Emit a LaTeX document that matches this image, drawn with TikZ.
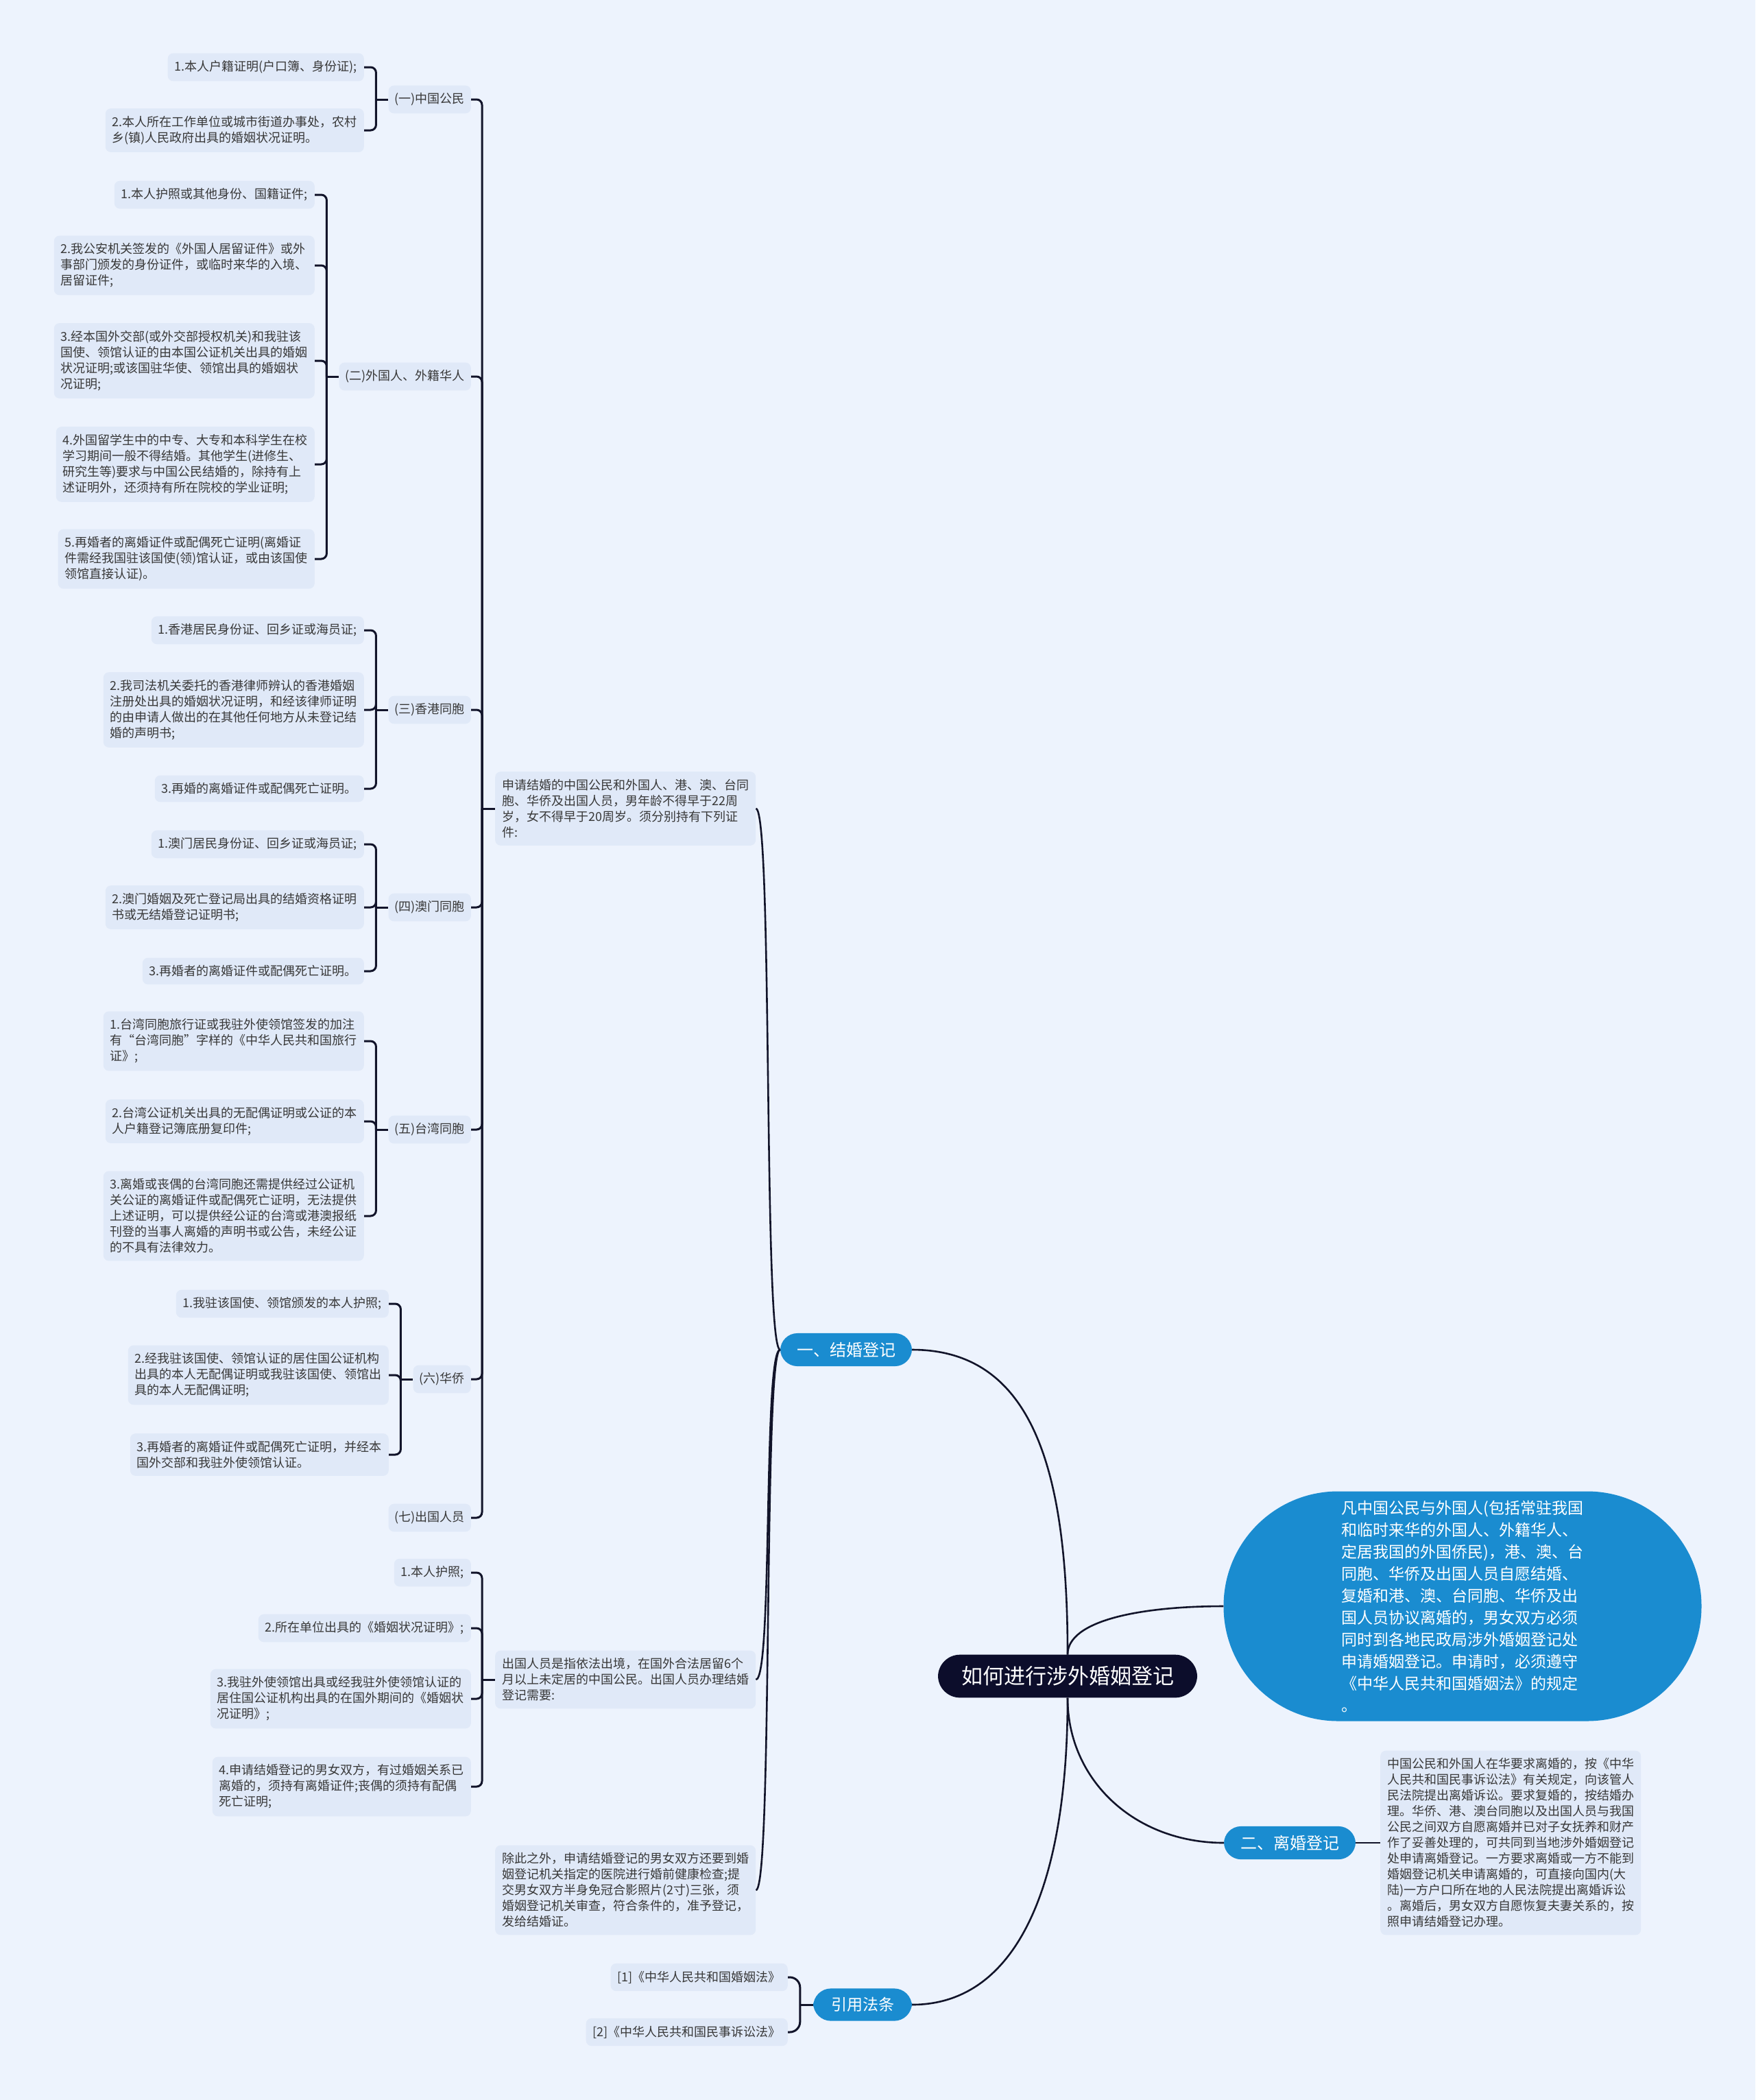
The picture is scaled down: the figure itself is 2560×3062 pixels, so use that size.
\documentclass[tikz,border=0pt]{standalone}
\usepackage{fontspec}
\setmainfont{Noto Sans CJK SC}
\usetikzlibrary{calc}
\definecolor{MapBack}{HTML}{EDF3FD}
\definecolor{MapLeaf}{HTML}{E0E9F8}
\definecolor{MapInk}{HTML}{12142A}
\definecolor{MapBlue}{HTML}{1A8CD0}
\definecolor{MapNight}{HTML}{0C0D2B}

\begin{document}
\begin{tikzpicture}[
    x=1pt, y=-1pt,
    font=\fontsize{18}{23}\selectfont,
    leaf/.style={fill=MapLeaf,rounded corners=8pt,align=left,inner xsep=10pt,inner ysep=11pt,text=black!78},
    cat/.style={leaf,inner xsep=9pt},
    branch/.style={fill=MapBlue,text=white,rounded corners=25pt,inner xsep=24pt,inner ysep=13pt,font=\fontsize{24}{28}\selectfont},
    rootbox/.style={fill=MapNight,text=white,rounded corners=32pt,inner xsep=34pt,inner ysep=17pt,font=\fontsize{31}{36}\selectfont},
    note/.style={fill=MapBlue,text=white,rounded corners=167pt,minimum width=697pt,minimum height=335pt,align=left,font=\fontsize{23}{32}\selectfont},
    brace/.style={draw=MapInk,line width=3pt,rounded corners=8pt},
    link/.style={draw=MapInk,line width=2.6pt}
  ]
    \fill[MapBack] (0,0) rectangle (2560,3062);
    \useasboundingbox (0,0) rectangle (2560,3062);

    \node[leaf,anchor=east] (p11) at (531,98) {1.本人户籍证明(户口簿、身份证);};
    \node[leaf,anchor=east] (p12) at (531,190) {2.本人所在工作单位或城市街道办事处，农村\\乡(镇)人民政府出具的婚姻状况证明。};
    \node[cat,anchor=east] (k1) at (687,145) {(一)中国公民};

    \node[leaf,anchor=east] (p21) at (459,284) {1.本人护照或其他身份、国籍证件;};
    \node[leaf,anchor=east] (p22) at (459,387) {2.我公安机关签发的《外国人居留证件》或外\\事部门颁发的身份证件，或临时来华的入境、\\居留证件;};
    \node[leaf,anchor=east] (p23) at (459,526) {3.经本国外交部(或外交部授权机关)和我驻该\\国使、领馆认证的由本国公证机关出具的婚姻\\状况证明;或该国驻华使、领馆出具的婚姻状\\况证明;};
    \node[leaf,anchor=east] (p24) at (459,677) {4.外国留学生中的中专、大专和本科学生在校\\学习期间一般不得结婚。其他学生(进修生、\\研究生等)要求与中国公民结婚的，除持有上\\述证明外，还须持有所在院校的学业证明;};
    \node[leaf,anchor=east] (p25) at (459,815) {5.再婚者的离婚证件或配偶死亡证明(离婚证\\件需经我国驻该国使(领)馆认证，或由该国使\\领馆直接认证)。};
    \node[cat,anchor=east] (k2) at (687,549) {(二)外国人、外籍华人};

    \node[leaf,anchor=east] (p31) at (531,919) {1.香港居民身份证、回乡证或海员证;};
    \node[leaf,anchor=east] (p32) at (531,1035) {2.我司法机关委托的香港律师辨认的香港婚姻\\注册处出具的婚姻状况证明，和经该律师证明\\的由申请人做出的在其他任何地方从未登记结\\婚的声明书;};
    \node[leaf,anchor=east] (p33) at (531,1150) {3.再婚的离婚证件或配偶死亡证明。};
    \node[cat,anchor=east] (k3) at (687,1035) {(三)香港同胞};

    \node[leaf,anchor=east] (p41) at (531,1231) {1.澳门居民身份证、回乡证或海员证;};
    \node[leaf,anchor=east] (p42) at (531,1323) {2.澳门婚姻及死亡登记局出具的结婚资格证明\\书或无结婚登记证明书;};
    \node[leaf,anchor=east] (p43) at (531,1416) {3.再婚者的离婚证件或配偶死亡证明。};
    \node[cat,anchor=east] (k4) at (687,1323) {(四)澳门同胞};

    \node[leaf,anchor=east] (p51) at (531,1518) {1.台湾同胞旅行证或我驻外使领馆签发的加注\\有“台湾同胞”字样的《中华人民共和国旅行\\证》;};
    \node[leaf,anchor=east] (p52) at (531,1635) {2.台湾公证机关出具的无配偶证明或公证的本\\人户籍登记簿底册复印件;};
    \node[leaf,anchor=east] (p53) at (531,1773) {3.离婚或丧偶的台湾同胞还需提供经过公证机\\关公证的离婚证件或配偶死亡证明，无法提供\\上述证明，可以提供经公证的台湾或港澳报纸\\刊登的当事人离婚的声明书或公告，未经公证\\的不具有法律效力。};
    \node[cat,anchor=east] (k5) at (687,1647) {(五)台湾同胞};

    \node[leaf,anchor=east] (p61) at (567,1901) {1.我驻该国使、领馆颁发的本人护照;};
    \node[leaf,anchor=east] (p62) at (567,2005) {2.经我驻该国使、领馆认证的居住国公证机构\\出具的本人无配偶证明或我驻该国使、领馆出\\具的本人无配偶证明;};
    \node[leaf,anchor=east] (p63) at (567,2121) {3.再婚者的离婚证件或配偶死亡证明，并经本\\国外交部和我驻外使领馆认证。};
    \node[cat,anchor=east] (k6) at (687,2011) {(六)华侨};
    \node[cat,anchor=east] (k7) at (687,2213) {(七)出国人员};

    \node[leaf,anchor=west] (t1) at (722,1179) {申请结婚的中国公民和外国人、港、澳、台同\\胞、华侨及出国人员，男年龄不得早于22周\\岁，女不得早于20周岁。须分别持有下列证\\件:};

    \node[leaf,anchor=east] (q1) at (687,2293) {1.本人护照;};
    \node[leaf,anchor=east] (q2) at (687,2374) {2.所在单位出具的《婚姻状况证明》;};
    \node[leaf,anchor=east] (q3) at (687,2477) {3.我驻外使领馆出具或经我驻外使领馆认证的\\居住国公证机构出具的在国外期间的《婚姻状\\况证明》;};
    \node[leaf,anchor=east] (q4) at (687,2605) {4.申请结婚登记的男女双方，有过婚姻关系已\\离婚的，须持有离婚证件;丧偶的须持有配偶\\死亡证明;};
    \node[leaf,anchor=west] (t2) at (722,2449) {出国人员是指依法出境，在国外合法居留6个\\月以上未定居的中国公民。出国人员办理结婚\\登记需要:};
    \node[leaf,anchor=west] (t3) at (722,2756) {除此之外，申请结婚登记的男女双方还要到婚\\姻登记机关指定的医院进行婚前健康检查;提\\交男女双方半身免冠合影照片(2寸)三张，须\\婚姻登记机关审查，符合条件的，准予登记，\\发给结婚证。};

    \node[branch] (br1) at (1234,1968) {一、结婚登记};
    \node[rootbox] (root) at (1557,2444) {如何进行涉外婚姻登记};
    \node[note] (note) at (2133,2342) {凡中国公民与外国人(包括常驻我国\\和临时来华的外国人、外籍华人、\\定居我国的外国侨民)，港、澳、台\\同胞、华侨及出国人员自愿结婚、\\复婚和港、澳、台同胞、华侨及出\\国人员协议离婚的，男女双方必须\\同时到各地民政局涉外婚姻登记处\\申请婚姻登记。申请时，必须遵守\\《中华人民共和国婚姻法》的规定\\。};
    \node[branch] (br2) at (1881,2687) {二、离婚登记};
    \node[leaf,anchor=west] (t4) at (2013,2687) {中国公民和外国人在华要求离婚的，按《中华\\人民共和国民事诉讼法》有关规定，向该管人\\民法院提出离婚诉讼。要求复婚的，按结婚办\\理。华侨、港、澳台同胞以及出国人员与我国\\公民之间双方自愿离婚并已对子女抚养和财产\\作了妥善处理的，可共同到当地涉外婚姻登记\\处申请离婚登记。一方要求离婚或一方不能到\\婚姻登记机关申请离婚的，可直接向国内(大\\陆)一方户口所在地的人民法院提出离婚诉讼\\。离婚后，男女双方自愿恢复夫妻关系的，按\\照申请结婚登记办理。};
    \node[branch,rounded corners=26pt,inner xsep=26pt,font=\fontsize{23}{28}\selectfont] (br3) at (1258,2923) {引用法条};
    \node[leaf,anchor=east] (r1) at (1149,2883) {[1]《中华人民共和国婚姻法》};
    \node[leaf,anchor=east] (r2) at (1149,2963) {[2]《中华人民共和国民事诉讼法》};

    \coordinate (j1) at ($(k1.west)+(-18,0)$);
    \coordinate (j2) at ($(k2.west)+(-18,0)$);
    \coordinate (j3) at ($(k3.west)+(-18,0)$);
    \coordinate (j4) at ($(k4.west)+(-18,0)$);
    \coordinate (j5) at ($(k5.west)+(-18,0)$);
    \coordinate (j6) at ($(k6.west)+(-18,0)$);
    \coordinate (jt1) at ($(t1.west)+(-19,0)$);
    \coordinate (jt2) at ($(t2.west)+(-19,0)$);
    \coordinate (jr) at ($(br3.west)+(-19,0)$);

    \draw[brace] (p11.east) -| (j1);
    \draw[brace] (p12.east) -| (j1);
    \draw[brace] (j1) -- (k1.west);
    \draw[brace] (p21.east) -| (j2);
    \draw[brace] (p22.east) -| (j2);
    \draw[brace] (p23.east) -| (j2);
    \draw[brace] (p24.east) -| (j2);
    \draw[brace] (p25.east) -| (j2);
    \draw[brace] (j2) -- (k2.west);
    \draw[brace] (p31.east) -| (j3);
    \draw[brace] (p32.east) -| (j3);
    \draw[brace] (p33.east) -| (j3);
    \draw[brace] (j3) -- (k3.west);
    \draw[brace] (p41.east) -| (j4);
    \draw[brace] (p42.east) -| (j4);
    \draw[brace] (p43.east) -| (j4);
    \draw[brace] (j4) -- (k4.west);
    \draw[brace] (p51.east) -| (j5);
    \draw[brace] (p52.east) -| (j5);
    \draw[brace] (p53.east) -| (j5);
    \draw[brace] (j5) -- (k5.west);
    \draw[brace] (p61.east) -| (j6);
    \draw[brace] (p62.east) -| (j6);
    \draw[brace] (p63.east) -| (j6);
    \draw[brace] (j6) -- (k6.west);

    \draw[brace] (k1.east) -| (jt1);
    \draw[brace] (k2.east) -| (jt1);
    \draw[brace] (k3.east) -| (jt1);
    \draw[brace] (k4.east) -| (jt1);
    \draw[brace] (k5.east) -| (jt1);
    \draw[brace] (k6.east) -| (jt1);
    \draw[brace] (k7.east) -| (jt1);
    \draw[brace] (jt1) -- (t1.west);

    \draw[brace] (q1.east) -| (jt2);
    \draw[brace] (q2.east) -| (jt2);
    \draw[brace] (q3.east) -| (jt2);
    \draw[brace] (q4.east) -| (jt2);
    \draw[brace] (jt2) -- (t2.west);

    \draw[brace,rounded corners=15pt] (r1.east) -| (jr);
    \draw[brace,rounded corners=15pt] (r2.east) -| (jr);
    \draw[brace] (jr) -- (br3.west);

    \draw[link] (br1.west) .. controls +(-25,0) and +(25,0) .. (t1.east);
    \draw[link] (br1.west) .. controls +(-25,0) and +(25,0) .. (t2.east);
    \draw[link] (br1.west) .. controls +(-25,0) and +(25,0) .. (t3.east);

    \draw[link] (root.north) .. controls +(0,-260) and +(180,0) .. (br1.east);
    \draw[link] (root.north) .. controls +(0,-50) and +(-120,0) .. (note.west);
    \draw[link] (root.south) .. controls +(0,120) and +(-130,0) .. (br2.west);
    \draw[link] (root.south) .. controls +(0,280) and +(150,0) .. (br3.east);
    \draw[link] (br2.east) -- (t4.west);
  \end{tikzpicture}
\end{document}
